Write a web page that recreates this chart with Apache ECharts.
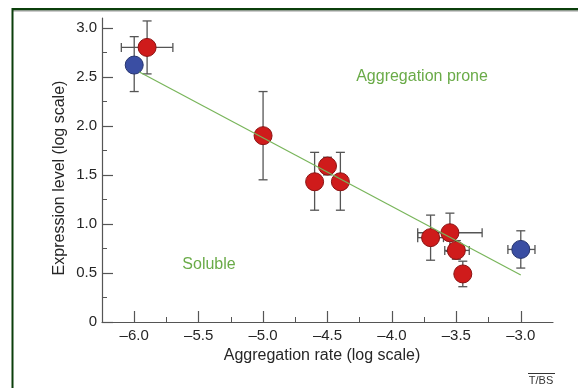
<!DOCTYPE html>
<html>
<head>
<meta charset="utf-8">
<script src="https://cdn.jsdelivr.net/npm/echarts@6/dist/echarts.min.js"></script>
<style>
html,body{margin:0;padding:0;background:#fff;}
#chart{width:578px;height:388px;}
</style>
</head>
<body>
<div id="chart"></div>
<script>
// ---- data ----
const redX     = [-5.90, -5.00, -4.60, -4.50, -4.40, -3.70, -3.55, -3.50, -3.45];
const redY     = [ 2.80,  1.90,  1.43,  1.59,  1.43,  0.86,  0.91,  0.73,  0.49];
const redYLow  = [ 2.53,  1.45,  1.14,  1.50,  1.14,  0.63,  0.72,  0.64,  0.36];
const redYHigh = [ 3.07,  2.35,  1.73,  1.68,  1.73,  1.09,  1.11,  0.83,  0.62];
const redXLow  = [-6.10,  null,  null,  null,  null, -3.80, -3.80, -3.59,  null];
const redXHigh = [-5.70,  null,  null,  null,  null, -3.60, -3.30, -3.40,  null];

const blueX     = [-6.00, -3.00];
const blueY     = [ 2.62,  0.74];
const blueYLow  = [ 2.35,  0.55];
const blueYHigh = [ 2.91,  0.93];
const blueXLow  = [ null, -3.10];
const blueXHigh = [ null, -2.89];

const fitX = [-5.96, -3.00];
const fitY = [ 2.55,  0.48];

const xMajorTicks = [-6.0, -5.5, -5.0, -4.5, -4.0, -3.5, -3.0];
const xMinorTicks = [-5.75, -5.25, -4.75, -4.25, -3.75, -3.25];
const yMajorTicks = [0, 0.5, 1.0, 1.5, 2.0, 2.5, 3.0];
const yMinorTicks = [0.25, 0.75, 1.25, 1.75, 2.25, 2.75];

const xTitle = 'Aggregation rate (log scale)';
const yTitle = 'Expression level (log scale)';
const labelProne = 'Aggregation prone';
const labelSoluble = 'Soluble';
const credit = 'T/BS';

// ---- chart ----
const FONT = '"Liberation Sans", Arial, sans-serif';
const AX = '#555';
const TXT = '#262626';
const GREEN = '#6aab48';

function pairs(xs, ys){ return xs.map((x,i)=>[x, ys[i]]); }

function errRenderer(xLo, xHi, yLo, yHi){
  return function(params, api){
    const i = params.dataIndex;
    const x = api.value(0), y = api.value(1);
    const cap = 4.5;
    const children = [];
    const st = {stroke: AX, lineWidth: 1.3};
    if (yLo[i] != null){
      const p1 = api.coord([x, yLo[i]]), p2 = api.coord([x, yHi[i]]);
      children.push({type:'line', shape:{x1:p1[0],y1:p1[1],x2:p2[0],y2:p2[1]}, style:st});
      children.push({type:'line', shape:{x1:p1[0]-cap,y1:p1[1],x2:p1[0]+cap,y2:p1[1]}, style:st});
      children.push({type:'line', shape:{x1:p2[0]-cap,y1:p2[1],x2:p2[0]+cap,y2:p2[1]}, style:st});
    }
    if (xLo[i] != null){
      const p1 = api.coord([xLo[i], y]), p2 = api.coord([xHi[i], y]);
      children.push({type:'line', shape:{x1:p1[0],y1:p1[1],x2:p2[0],y2:p2[1]}, style:st});
      children.push({type:'line', shape:{x1:p1[0],y1:p1[1]-cap,x2:p1[0],y2:p1[1]+cap}, style:st});
      children.push({type:'line', shape:{x1:p2[0],y1:p2[1]-cap,x2:p2[0],y2:p2[1]+cap}, style:st});
    }
    return {type:'group', children};
  };
}

const gridPos = {left:102, right:25, top:18, bottom:66};
const xRange = {min:-6.25, max:-2.75};
const yRange = {min:0, max:3.1};

const chart = echarts.init(document.getElementById('chart'), null, {renderer:'canvas'});
chart.setOption({
  animation:false,
  backgroundColor:'#fff',
  grid:[Object.assign({}, gridPos), Object.assign({}, gridPos)],
  xAxis:[
    {type:'value', gridIndex:0, min:xRange.min, max:xRange.max, interval:0.25,
     splitLine:{show:false},
     axisLine:{show:true, onZero:false, lineStyle:{color:AX, width:1.2}},
     axisTick:{show:true, inside:true, length:11, customValues:xMajorTicks, lineStyle:{color:AX, width:1.2}},
     axisLabel:{show:true, margin:6, customValues:xMajorTicks, color:TXT, fontSize:15, fontFamily:FONT,
       formatter:v => (v<0?'\u2013':'') + Math.abs(v).toFixed(1)}},
    {type:'value', gridIndex:1, min:xRange.min, max:xRange.max, interval:0.25,
     splitLine:{show:false}, axisLine:{show:false},
     axisTick:{show:true, inside:true, length:5, customValues:xMinorTicks, lineStyle:{color:AX, width:1}},
     axisLabel:{show:false}}
  ],
  yAxis:[
    {type:'value', gridIndex:0, min:yRange.min, max:yRange.max, interval:0.5,
     splitLine:{show:false},
     axisLine:{show:true, onZero:false, lineStyle:{color:AX, width:1.2}},
     axisTick:{show:true, inside:true, length:11, customValues:yMajorTicks, lineStyle:{color:AX, width:1.2}},
     axisLabel:{show:true, margin:5, customValues:yMajorTicks, color:TXT, fontSize:15, fontFamily:FONT,
       formatter:v => v===0 ? '0' : v.toFixed(1)}},
    {type:'value', gridIndex:1, min:yRange.min, max:yRange.max, interval:0.5,
     splitLine:{show:false}, axisLine:{show:false},
     axisTick:{show:true, inside:true, length:5, customValues:yMinorTicks, lineStyle:{color:AX, width:1}},
     axisLabel:{show:false}}
  ],
  series:[
    {type:'custom', name:'red error', xAxisIndex:0, yAxisIndex:0, z:1,
     renderItem: errRenderer(redXLow, redXHigh, redYLow, redYHigh), data: pairs(redX, redY)},
    {type:'custom', name:'blue error', xAxisIndex:0, yAxisIndex:0, z:1,
     renderItem: errRenderer(blueXLow, blueXHigh, blueYLow, blueYHigh), data: pairs(blueX, blueY)},
    {type:'scatter', name:'red', xAxisIndex:0, yAxisIndex:0, z:2, symbolSize:18,
     itemStyle:{color:'#cf1b1b', borderColor:'#8c1212', borderWidth:1, opacity:1},
     data: pairs(redX, redY)},
    {type:'scatter', name:'blue', xAxisIndex:0, yAxisIndex:0, z:2, symbolSize:18,
     itemStyle:{color:'#3a4ea3', borderColor:'#27356f', borderWidth:1, opacity:1},
     data: pairs(blueX, blueY)},
    {type:'line', name:'fit', xAxisIndex:0, yAxisIndex:0, z:3, symbol:'none',
     lineStyle:{color:'#78b55a', width:1.2}, data: pairs(fitX, fitY)}
  ],
  graphic:[
    {type:'rect', left:12, top:8, shape:{width:566, height:2.5}, style:{fill:'#0b3f0b'}, silent:true},
    {type:'rect', left:12, top:10.5, shape:{width:566, height:1}, style:{fill:'#9a9a9a'}, silent:true},
    {type:'rect', left:11.5, top:8, shape:{width:2, height:380}, style:{fill:'#0b3f0b'}, silent:true},
    {type:'text', x:322, y:356, style:{text:xTitle, fill:TXT, font:'16px '+FONT, align:'center', verticalAlign:'middle'}},
    {type:'text', x:60, y:178, rotation:Math.PI/2, style:{text:yTitle, fill:TXT, font:'16px '+FONT, align:'center', verticalAlign:'middle'}},
    {type:'text', x:422, y:77, style:{text:labelProne, fill:GREEN, font:'16px '+FONT, align:'center', verticalAlign:'middle'}},
    {type:'text', x:209, y:265, style:{text:labelSoluble, fill:GREEN, font:'16px '+FONT, align:'center', verticalAlign:'middle'}},
    {type:'text', x:541, y:381, style:{text:credit, fill:'#333', font:'11px '+FONT, align:'center', verticalAlign:'middle'}},
    {type:'line', shape:{x1:528, y1:373.5, x2:555, y2:373.5}, style:{stroke:'#333', lineWidth:1}}
  ]
});
</script>
</body>
</html>
